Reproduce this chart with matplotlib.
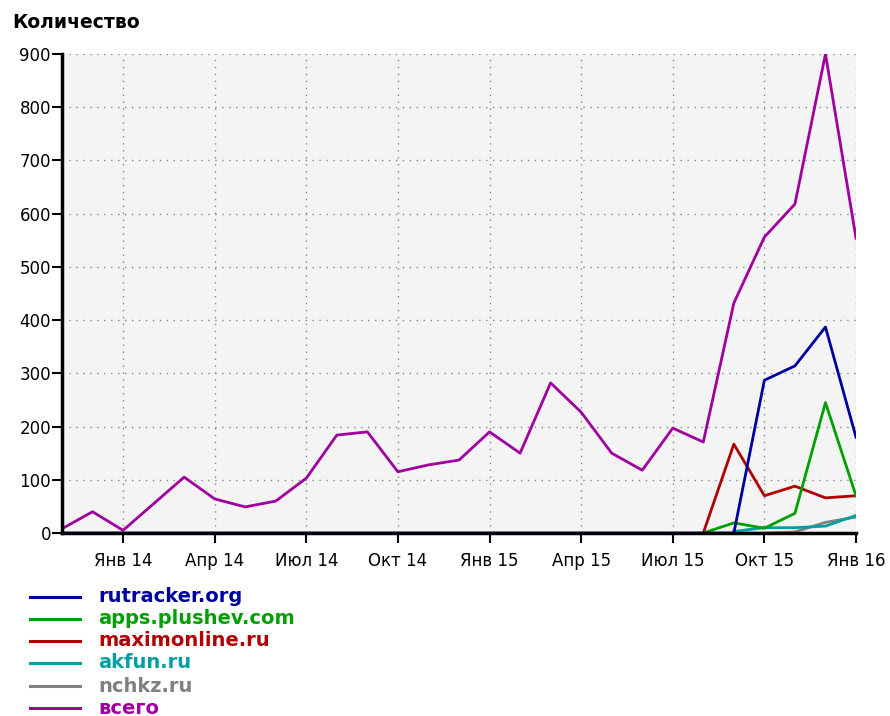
import matplotlib
matplotlib.use("Agg")
import matplotlib.pyplot as plt
from matplotlib.lines import Line2D
import numpy as np

plt.rcParams['font.family'] = ['DejaVu Sans']

# monthly points Nov 2013 .. Jan 2016 (index 0 = Nov 2013)
months = list(range(27))
nan = np.nan
total = [8, 40, 5, 55, 105, 64, 49, 60, 103, 184, 190, 115, 128, 137, 190, 150, 282, 227,
         150, 118, 197, 171, 432, 556, 618, 900, 554]
rutracker = [0] * 22 + [0, 287, 314, 387, 180]
apps = [nan] * 21 + [0, 19, 9, 37, 245, 70]
maxim = [nan] * 21 + [0, 167, 70, 88, 66, 70]
akfun = [nan] * 22 + [3, 10, 10, 13, 33]
nchkz = [nan] * 22 + [0, 0, 2, 20, 30]

tick_pos = [2, 5, 8, 11, 14, 17, 20, 23, 26]
tick_labels = ["Янв 14", "Апр 14", "Июл 14", "Окт 14", "Янв 15", "Апр 15", "Июл 15", "Окт 15", "Янв 16"]
yticks = list(range(0, 901, 100))

series = [
    ("rutracker.org", rutracker, "#0000a0"),
    ("apps.plushev.com", apps, "#00a000"),
    ("maximonline.ru", maxim, "#b00000"),
    ("akfun.ru", akfun, "#00a0a0"),
    ("nchkz.ru", nchkz, "#808080"),
    ("всего", total, "#a000a0"),
]

W, H = 890, 716
fig = plt.figure(figsize=(W/100, H/100), dpi=100)
ax = fig.add_axes([62/W, 1-533/H, (856-62)/W, (533-54)/H])
ax.set_facecolor("#f4f4f4")

draw_order = ["всего", "nchkz.ru", "akfun.ru", "maximonline.ru", "apps.plushev.com", "rutracker.org"]
lookup = {n: (v, c) for n, v, c in series}
for name in draw_order:
    v, c = lookup[name]
    ax.plot(months, v, color=c, lw=2.0, zorder=3)

ax.set_xlim(0, 26)
ax.set_ylim(0, 900)
ax.set_xticks(tick_pos)
ax.set_xticklabels(tick_labels)
ax.set_yticks(yticks)
ax.tick_params(axis='both', labelsize=12, direction='out', length=7, width=1.5, colors='black')
ax.tick_params(axis='y', pad=1)
ax.tick_params(axis='x', pad=7)
ax.grid(True, linestyle=(0, (1, 4)), color="#888888", linewidth=1.0)
for s in ["top", "right"]:
    ax.spines[s].set_visible(False)
for s in ["left", "bottom"]:
    ax.spines[s].set_linewidth(2.5)
    ax.spines[s].set_color("black")
    ax.spines[s].set_zorder(5)

fig.text(12/W, 1-22/H, "Количество", fontsize=13.5, fontweight='bold', va='center', ha='left')

row_y = [597, 619, 641, 663, 686, 708]
for (name, _, c), y in zip(series, row_y):
    fig.add_artist(Line2D([30/W, 80/W], [1-y/H, 1-y/H], color=c, lw=2.2, transform=fig.transFigure))
    fig.text(98/W, 1-y/H, name, color=c, fontsize=14, fontweight='bold', va='center', ha='left')

fig.savefig("out.png", dpi=100)
